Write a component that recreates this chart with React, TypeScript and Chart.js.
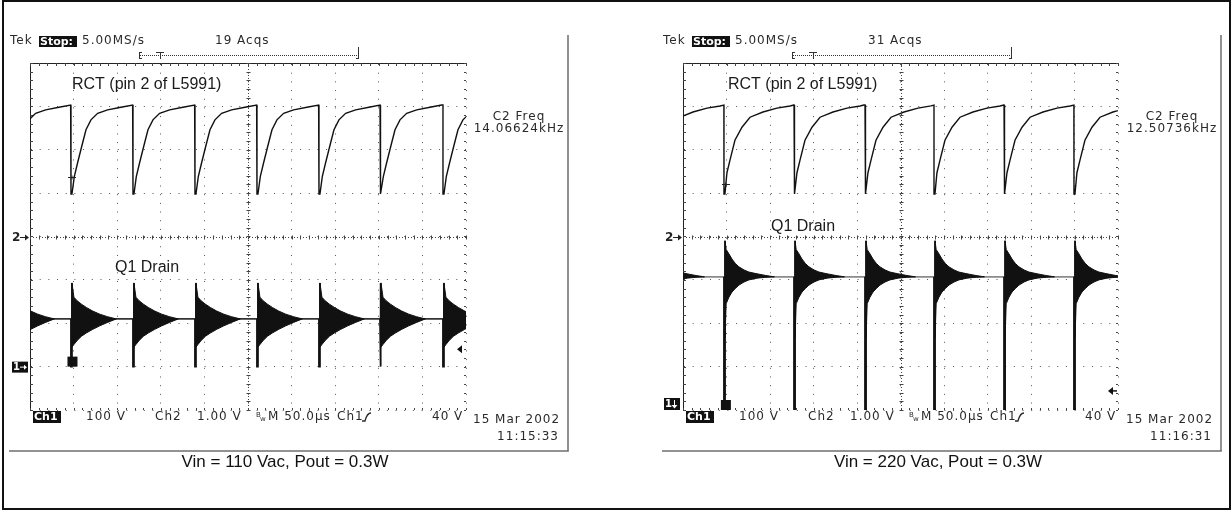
import React, { useEffect, useRef } from "react";
import { Chart, registerables } from "chart.js";

Chart.register(...registerables);

// ---------- screen axes: 50 µs/div x 10 div, 8 vertical divisions (Ch2 ground = 0) ----------
const TIME_MIN = 0;
const TIME_MAX = 500;
const TIME_DIV = 50;
const DIV_MIN = -4;
const DIV_MAX = 4;

// ---------- Left screen: Vin = 110 Vac, Pout = 0.3W ----------
const leftSwitchTimes = [-24.1, 47.0, 118.1, 189.2, 260.3, 331.4, 401.4, 473.6]; // µs
const leftRctOffsets = [0, 1.1, 3.8, 7.6, 12.2, 17.2, 22.9, 30.6, 42.0, 57.3, 70.7]; // µs after discharge
const leftRctLevels = [0.98, 0.98, 1.38, 1.7, 2.07, 2.46, 2.69, 2.84, 2.92, 2.98, 3.03]; // div
const leftDrainBase = -1.9;
const leftDrainGround = -3.0;
const leftSpikeTop = -1.07;
const leftRingOffsets = [1.1, 3.4, 7, 12, 18, 25, 33, 42, 52];
const leftRingUpper = [-1.07, -1.4, -1.48, -1.56, -1.64, -1.72, -1.79, -1.85, -1.9];
const leftRingLower = [-2.55, -2.49, -2.4, -2.3, -2.22, -2.14, -2.06, -1.98, -1.9];
const leftTriggerLevel = -2.6;
const leftRctMark = { t: 48.2, v: 1.37 };
const leftTrigTime = 48.7;

// ---------- Right screen: Vin = 220 Vac, Pout = 0.3W ----------
const rightSwitchTimes = [-33.3, 47.1, 127.6, 209.2, 288.5, 369.0, 449.4];
const rightRctOffsets = [0, 1.1, 3.4, 6.9, 12.6, 20.7, 29.9, 44.8, 60.9, 75.9, 80.3];
const rightRctLevels = [0.98, 0.98, 1.47, 1.76, 2.22, 2.52, 2.75, 2.87, 2.96, 3.01, 3.03];
const rightDrainBase = -0.93;
const rightDrainGround = -4.4;
const rightSpikeTop = -0.1;
const rightRingOffsets = [1.2, 2.5, 5.7, 9.2, 13, 17.2, 23, 28.7, 38, 48.3, 58];
const rightRingUpper = [-0.1, -0.3, -0.4, -0.52, -0.62, -0.7, -0.77, -0.82, -0.86, -0.9, -0.93];
const rightRingLower = [-2.33, -1.55, -1.4, -1.28, -1.2, -1.12, -1.05, -1.0, -0.96, -0.94, -0.93];
const rightTriggerLevel = -3.56;
const rightRctMark = { t: 49.4, v: 1.21 };
const rightTrigTime = 49.3;

type P = { x: number; y: number | null };

function rctSeries(sw: number[], offs: number[], lv: number[]): P[] {
  const pts: P[] = [];
  sw.forEach((t0, i) => {
    const next = i + 1 < sw.length ? sw[i + 1] : Infinity;
    pts.push({ x: t0, y: lv[lv.length - 1] });
    offs.forEach((o, k) => {
      if (t0 + o < next) pts.push({ x: t0 + o, y: lv[k] });
    });
  });
  return pts;
}

function edgeSeries(sw: number[], base: number, ground: number, at: number, top: number): P[] {
  const pts: P[] = [];
  sw.forEach((t0) => {
    pts.push({ x: t0, y: base }, { x: t0, y: ground }, { x: t0 + at, y: ground }, { x: t0 + at, y: top }, { x: t0 + at, y: null });
  });
  return pts;
}

function envSeries(sw: number[], offs: number[], vals: number[], base: number): P[] {
  const pts: P[] = [];
  sw.forEach((t0) => {
    pts.push({ x: t0 + offs[0] - 0.05, y: base });
    offs.forEach((o, k) => pts.push({ x: t0 + o, y: vals[k] }));
  });
  return pts;
}

type Panel = {
  canvasLeft: number;
  canvasWidth: number;
  plotLeft: number;
  plotRight: number;
  acqs: string;
  freq: string;
  time: string;
  footer: string;
  sw: number[];
  rctOffs: number[];
  rctLv: number[];
  base: number;
  ground: number;
  spikeAt: number;
  spikeTop: number;
  ringOffs: number[];
  ringUp: number[];
  ringLo: number[];
  baseColor: string;
  rctLabelX: number;
  q1X: number;
  q1Y: number;
  ch1Down: boolean;
  trigLevel: number;
  rctMark: { t: number; v: number };
  trigTime: number;
};

const leftPanel: Panel = {
  canvasLeft: 0,
  canvasWidth: 616,
  plotLeft: 30,
  plotRight: 466,
  acqs: "19 Acqs",
  freq: "14.06624kHz",
  time: "11:15:33",
  footer: "Vin = 110 Vac, Pout = 0.3W",
  sw: leftSwitchTimes,
  rctOffs: leftRctOffsets,
  rctLv: leftRctLevels,
  base: leftDrainBase,
  ground: leftDrainGround,
  spikeAt: 1.1,
  spikeTop: leftSpikeTop,
  ringOffs: leftRingOffsets,
  ringUp: leftRingUpper,
  ringLo: leftRingLower,
  baseColor: "#333",
  rctLabelX: 42,
  q1X: 85,
  q1Y: 268,
  ch1Down: false,
  trigLevel: leftTriggerLevel,
  rctMark: leftRctMark,
  trigTime: leftTrigTime,
};

const rightPanel: Panel = {
  canvasLeft: 616,
  canvasWidth: 615,
  plotLeft: 67,
  plotRight: 502,
  acqs: "31 Acqs",
  freq: "12.50736kHz",
  time: "11:16:31",
  footer: "Vin = 220 Vac, Pout = 0.3W",
  sw: rightSwitchTimes,
  rctOffs: rightRctOffsets,
  rctLv: rightRctLevels,
  base: rightDrainBase,
  ground: rightDrainGround,
  spikeAt: 1.2,
  spikeTop: rightSpikeTop,
  ringOffs: rightRingOffsets,
  ringUp: rightRingUpper,
  ringLo: rightRingLower,
  baseColor: "#8a8a8a",
  rctLabelX: 45,
  q1X: 88,
  q1Y: 227,
  ch1Down: true,
  trigLevel: rightTriggerLevel,
  rctMark: rightRctMark,
  trigTime: rightTrigTime,
};

const PLOT_TOP = 63;
const PLOT_BOTTOM = 410;
const H = 510;

const TEK_COLOR = "#2a2a2a";

function tek(ctx: CanvasRenderingContext2D, s: string, x: number, y: number, align: CanvasTextAlign = "left", size = 12) {
  ctx.font = `${size}px 'DejaVu Sans'`;
  (ctx as any).letterSpacing = "1px";
  ctx.fillStyle = TEK_COLOR;
  ctx.textAlign = align;
  ctx.textBaseline = "middle";
  ctx.fillText(s, x, y);
  (ctx as any).letterSpacing = "0px";
}

function inv(ctx: CanvasRenderingContext2D, s: string, x: number, y: number, w: number, h: number) {
  ctx.fillStyle = "#111";
  ctx.fillRect(x, y, w, h);
  ctx.font = "bold 11px 'DejaVu Sans'";
  (ctx as any).letterSpacing = "0px";
  ctx.fillStyle = "#fff";
  ctx.textAlign = "left";
  ctx.textBaseline = "middle";
  ctx.fillText(s, x + 1, y + h / 2 + 0.5);
}

function line(ctx: CanvasRenderingContext2D, x1: number, y1: number, x2: number, y2: number) {
  ctx.beginPath();
  ctx.moveTo(x1, y1);
  ctx.lineTo(x2, y2);
  ctx.stroke();
}

function makeDecor(p: Panel) {
  return {
    id: "scopeDecor",
    beforeDatasetsDraw(chart: any) {
      const ctx: CanvasRenderingContext2D = chart.ctx;
      const { left, right, top, bottom } = chart.chartArea;
      const xs = chart.scales.x;
      const ys = chart.scales.y;
      const cx = Math.round(xs.getPixelForValue((TIME_MIN + TIME_MAX) / 2)) + 0.5;
      const cy = Math.round(ys.getPixelForValue(0)) + 0.5;
      ctx.save();
      ctx.strokeStyle = "#444";
      ctx.lineWidth = 1;
      // denser centre cross
      ctx.setLineDash([1, 2]);
      line(ctx, cx, top, cx, bottom);
      line(ctx, left, cy, right, cy);
      ctx.setLineDash([]);
      for (let t = TIME_MIN; t <= TIME_MAX; t += TIME_DIV / 5) {
        const px = Math.round(xs.getPixelForValue(t)) + 0.5;
        line(ctx, px, cy - 2, px, cy + 2);
        line(ctx, px, top, px, top + 3);
        line(ctx, px, bottom - 2, px, bottom);
      }
      for (let v = DIV_MIN; v <= DIV_MAX + 1e-6; v += 0.2) {
        const py = Math.round(ys.getPixelForValue(v)) + 0.5;
        line(ctx, cx - 2, py, cx + 2, py);
        line(ctx, left, py, left + 3, py);
        line(ctx, right - 2, py, right, py);
      }
      ctx.restore();
    },
    afterDraw(chart: any) {
      const ctx: CanvasRenderingContext2D = chart.ctx;
      const { left: L, right: R } = chart.chartArea;
      const xs = chart.scales.x;
      const ys = chart.scales.y;
      ctx.save();

      // panel frame
      ctx.strokeStyle = "#6e6e6e";
      ctx.lineWidth = 1.5;
      line(ctx, L + 538, 35, L + 538, 451);
      line(ctx, L - 21, 451, L + 538.75, 451);

      // top status line
      tek(ctx, "Tek", L - 20, 41);
      inv(ctx, "Stop:", L + 9, 36, 38, 11);
      tek(ctx, "5.00MS/s", L + 52, 41);
      tek(ctx, p.acqs, L + 185, 41);

      // record bracket with trigger T
      ctx.strokeStyle = "#333";
      ctx.lineWidth = 1;
      ctx.setLineDash([1, 1]);
      line(ctx, L + 110, 55.5, L + 328, 55.5);
      ctx.setLineDash([]);
      line(ctx, L + 109.5, 52, L + 109.5, 59);
      line(ctx, L + 109.5, 52.5, L + 112, 52.5);
      line(ctx, L + 109.5, 58.5, L + 112, 58.5);
      line(ctx, L + 126, 52.5, L + 134, 52.5);
      line(ctx, L + 130.5, 52.5, L + 130.5, 59);
      line(ctx, L + 328.5, 47, L + 328.5, 59);
      line(ctx, L + 326, 58.5, L + 328.5, 58.5);

      // frequency readout
      tek(ctx, "C2 Freq", L + 489, 117, "center");
      tek(ctx, p.freq, L + 489, 129, "center");

      // waveform labels
      ctx.font = "16px 'Liberation Sans', Arial, sans-serif";
      ctx.fillStyle = "#1a1a1a";
      ctx.textAlign = "left";
      ctx.textBaseline = "middle";
      ctx.fillText("RCT (pin 2 of L5991)", L + p.rctLabelX, 85);
      ctx.fillText("Q1 Drain", L + p.q1X, p.q1Y);

      // channel 2 ground marker
      const y2 = Math.round(ys.getPixelForValue(0)) + 0.5;
      ctx.font = "bold 12px 'DejaVu Sans'";
      ctx.fillStyle = "#222";
      ctx.textAlign = "left";
      ctx.fillText("2", L - 18, y2);
      ctx.strokeStyle = "#222";
      ctx.lineWidth = 1;
      line(ctx, L - 10, y2, L - 3, y2);
      ctx.beginPath();
      ctx.moveTo(L - 1, y2);
      ctx.lineTo(L - 5, y2 - 3);
      ctx.lineTo(L - 5, y2 + 3);
      ctx.closePath();
      ctx.fillStyle = "#222";
      ctx.fill();

      // channel 1 ground marker
      if (!p.ch1Down) {
        const y1 = ys.getPixelForValue(p.ground);
        ctx.fillStyle = "#111";
        ctx.fillRect(L - 18, y1 - 5, 16, 11);
        ctx.font = "bold 10px 'DejaVu Sans'";
        ctx.fillStyle = "#fff";
        ctx.fillText("1", L - 17, y1 + 0.5);
        ctx.strokeStyle = "#fff";
        line(ctx, L - 10, y1 + 0.5, L - 5, y1 + 0.5);
        ctx.beginPath();
        ctx.moveTo(L - 3, y1 + 0.5);
        ctx.lineTo(L - 6, y1 - 2);
        ctx.lineTo(L - 6, y1 + 3);
        ctx.closePath();
        ctx.fill();
      } else {
        const yb = chart.chartArea.bottom;
        ctx.fillStyle = "#111";
        ctx.fillRect(L - 19, yb - 12, 16, 12);
        ctx.font = "bold 10px 'DejaVu Sans'";
        ctx.fillStyle = "#fff";
        ctx.fillText("1", L - 18, yb - 5.5);
        ctx.strokeStyle = "#fff";
        line(ctx, L - 8.5, yb - 10, L - 8.5, yb - 4);
        ctx.beginPath();
        ctx.moveTo(L - 8.5, yb - 1.5);
        ctx.lineTo(L - 11.5, yb - 5);
        ctx.lineTo(L - 5.5, yb - 5);
        ctx.closePath();
        ctx.fill();
      }

      // trigger position square & RCT trigger tick
      const tx = xs.getPixelForValue(p.trigTime);
      const sqBottom = p.ch1Down ? chart.chartArea.bottom : ys.getPixelForValue(p.ground);
      ctx.fillStyle = "#111";
      ctx.fillRect(tx - 5, sqBottom - 10, 10, 10);
      const mx = xs.getPixelForValue(p.rctMark.t);
      const my = Math.round(ys.getPixelForValue(p.rctMark.v)) + 0.5;
      ctx.strokeStyle = "#222";
      ctx.lineWidth = 1;
      line(ctx, mx - 4, my, mx + 4, my);
      line(ctx, mx, my - 2, mx, my + 2);

      // trigger level marker at right edge
      const ty = ys.getPixelForValue(p.trigLevel);
      ctx.fillStyle = "#111";
      if (!p.ch1Down) {
        ctx.beginPath();
        ctx.moveTo(R - 9, ty);
        ctx.lineTo(R - 4, ty - 4);
        ctx.lineTo(R - 4, ty + 4);
        ctx.closePath();
        ctx.fill();
      } else {
        ctx.beginPath();
        ctx.moveTo(R - 10, ty);
        ctx.lineTo(R - 5, ty - 4);
        ctx.lineTo(R - 5, ty + 4);
        ctx.closePath();
        ctx.fill();
        ctx.strokeStyle = "#111";
        ctx.lineWidth = 1.5;
        line(ctx, R - 6, ty, R - 1, ty);
      }

      // bottom readout line
      const by = 417;
      inv(ctx, "Ch1", L + 3, 411, 28, 12);
      tek(ctx, "100 V", L + 56, by);
      tek(ctx, "Ch2", L + 125, by);
      tek(ctx, "1.00 V", L + 167, by);
      ctx.font = "7px 'DejaVu Sans'";
      ctx.fillStyle = TEK_COLOR;
      ctx.textAlign = "left";
      ctx.fillText("B", L + 226, by - 2);
      ctx.fillText("w", L + 230, by + 2);
      tek(ctx, "M 50.0µs", L + 238, by);
      tek(ctx, "Ch1", L + 307, by);
      ctx.strokeStyle = TEK_COLOR;
      ctx.lineWidth = 1.3;
      ctx.beginPath();
      ctx.moveTo(L + 332, by + 4);
      ctx.lineTo(L + 335, by + 4);
      ctx.quadraticCurveTo(L + 337, by - 4, L + 341, by - 4);
      ctx.stroke();
      tek(ctx, "40 V", L + 402, by);
      tek(ctx, "15 Mar 2002", L + 443, 420);
      tek(ctx, p.time, L + 529, 437, "right");

      // caption
      ctx.font = "17px 'Liberation Sans', Arial, sans-serif";
      ctx.fillStyle = "#111";
      ctx.textAlign = "center";
      ctx.textBaseline = "middle";
      ctx.fillText(p.footer, L + 255, 462);

      ctx.restore();
    },
  };
}

function makeChart(canvas: HTMLCanvasElement, p: Panel) {
  const base = p.base;
  const gridCfg = { color: "#555", lineWidth: 1, drawTicks: false };
  const borderCfg = { display: true, color: "#222", width: 1, dash: [1, 7.68] };
  return new Chart(canvas, {
    type: "line",
    data: {
      datasets: [
        {
          label: "RCT",
          data: rctSeries(p.sw, p.rctOffs, p.rctLv) as any,
          borderColor: "#111",
          borderWidth: 1.4,
          pointRadius: 0,
          fill: false,
        },
        {
          label: "Q1 Drain edges",
          data: edgeSeries(p.sw, base, p.ground, p.spikeAt, p.spikeTop) as any,
          borderColor: "#111",
          borderWidth: 1.8,
          pointRadius: 0,
          spanGaps: false,
          fill: false,
        },
        {
          label: "Q1 Drain ringing upper",
          data: envSeries(p.sw, p.ringOffs, p.ringUp, base) as any,
          borderColor: "#111",
          borderWidth: 1,
          backgroundColor: "#111",
          pointRadius: 0,
          fill: "+1",
          segment: {
            borderColor: (c: any) => (c.p0.parsed.y === base && c.p1.parsed.y === base ? "rgba(0,0,0,0)" : "#111"),
          },
        },
        {
          label: "Q1 Drain ringing lower",
          data: envSeries(p.sw, p.ringOffs, p.ringLo, base) as any,
          borderColor: "#111",
          borderWidth: 1,
          pointRadius: 0,
          fill: false,
          segment: {
            borderColor: (c: any) => (c.p0.parsed.y === base && c.p1.parsed.y === base ? "rgba(0,0,0,0)" : "#111"),
          },
        },
        {
          label: "Q1 Drain baseline",
          data: [
            { x: TIME_MIN, y: base },
            { x: TIME_MAX, y: base },
          ],
          borderColor: p.baseColor,
          borderWidth: 1.6,
          pointRadius: 0,
          fill: false,
        },
      ],
    },
    options: {
      responsive: false,
      animation: false,
      devicePixelRatio: 1,
      events: [],
      layout: {
        padding: {
          left: p.plotLeft,
          right: p.canvasWidth - p.plotRight,
          top: PLOT_TOP,
          bottom: H - PLOT_BOTTOM,
        },
      },
      elements: { line: { tension: 0 }, point: { radius: 0 } },
      plugins: {
        legend: { display: false },
        tooltip: { enabled: false },
        title: { display: false },
      },
      scales: {
        x: {
          type: "linear",
          position: "top",
          min: TIME_MIN,
          max: TIME_MAX,
          ticks: { display: false, stepSize: TIME_DIV },
          grid: gridCfg,
          border: borderCfg,
        },
        y: {
          type: "linear",
          position: "left",
          min: DIV_MIN,
          max: DIV_MAX,
          ticks: { display: false, stepSize: 1 },
          grid: gridCfg,
          border: borderCfg,
        },
      },
    } as any,
    plugins: [makeDecor(p)],
  });
}

export default function App() {
  const leftRef = useRef<HTMLCanvasElement>(null);
  const rightRef = useRef<HTMLCanvasElement>(null);
  useEffect(() => {
    const charts = [makeChart(leftRef.current!, leftPanel), makeChart(rightRef.current!, rightPanel)];
    return () => charts.forEach((c) => c.destroy());
  }, []);
  return (
    <div style={{ position: "absolute", left: 0, top: 0, width: 1231, height: H, background: "#fff", overflow: "hidden" }}>
      <canvas
        ref={leftRef}
        width={leftPanel.canvasWidth}
        height={H}
        style={{ position: "absolute", left: leftPanel.canvasLeft, top: 0, width: leftPanel.canvasWidth, height: H }}
      />
      <canvas
        ref={rightRef}
        width={rightPanel.canvasWidth}
        height={H}
        style={{ position: "absolute", left: rightPanel.canvasLeft, top: 0, width: rightPanel.canvasWidth, height: H }}
      />
      <div
        style={{
          position: "absolute",
          left: 2,
          top: 0,
          width: 1229,
          height: H,
          boxSizing: "border-box",
          border: "2px solid #111",
          pointerEvents: "none",
        }}
      />
    </div>
  );
}
